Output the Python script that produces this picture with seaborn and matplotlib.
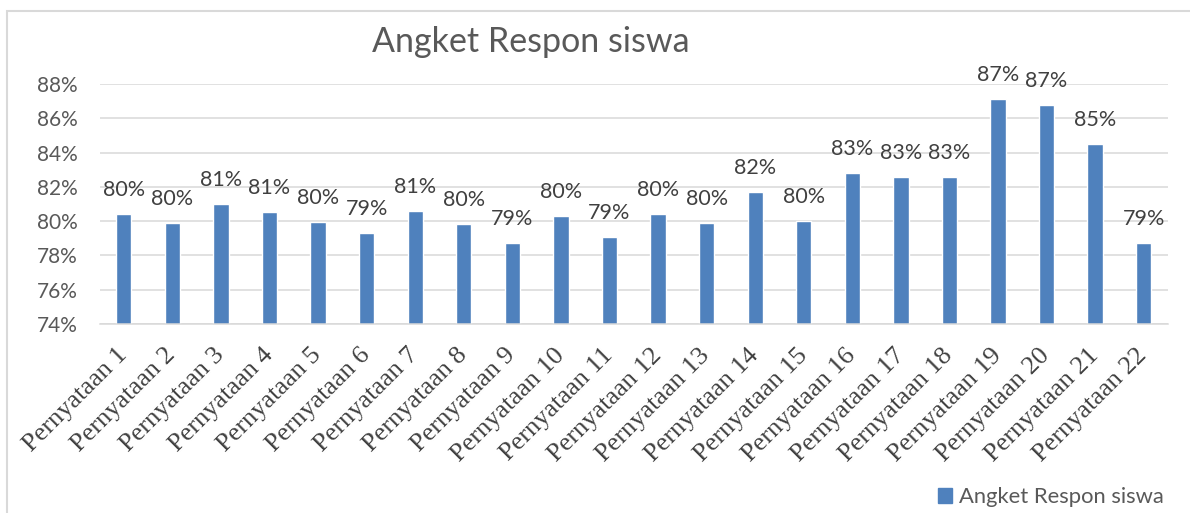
import matplotlib
matplotlib.use("Agg")
import matplotlib.pyplot as plt
import matplotlib.patches as mpatches
from matplotlib.ticker import FuncFormatter
import pandas as pd
import seaborn as sns

# data (percent)
pernyataan = [f"Pernyataan {i}" for i in range(1, 23)]
respon = [80.40, 79.89, 81.02, 80.52, 79.97, 79.29, 80.57, 79.83, 78.71, 80.28, 79.06,
          80.40, 79.89, 81.68, 80.03, 82.79, 82.57, 82.57, 87.14, 86.77, 84.52, 78.74]
judul = "Angket Respon siswa"

BAR = "#4F81BD"
GRID = "#D9D9D9"
TEXT = "#595959"
LABEL = "#404040"

sns.set_theme(style="white")
plt.rcParams["font.family"] = ["Lato", "DejaVu Sans"]

df = pd.DataFrame({"pernyataan": pernyataan, "respon": respon})

fig = plt.figure(figsize=(11.9, 5.13), dpi=100)
ax = fig.add_axes([99.5 / 1190, 189 / 513, (1168 - 99.5) / 1190, 240 / 513])

sns.barplot(data=df, x="pernyataan", y="respon", color=BAR, saturation=1,
            width=0.315, ax=ax)

ax.set_ylim(74, 88)
ax.set_yticks(range(74, 89, 2))
ax.yaxis.set_major_formatter(FuncFormatter(lambda v, _: f"{v:.0f}%"))
ax.set_xlabel("")
ax.set_ylabel("")
ax.grid(axis="y", color=GRID, linewidth=1.1)
ax.set_axisbelow(True)
for s in ["top", "right", "left"]:
    ax.spines[s].set_visible(False)
ax.spines["bottom"].set_color(GRID)
ax.spines["bottom"].set_linewidth(1.1)

ax.tick_params(axis="y", length=0, pad=16, labelsize=15, labelcolor=TEXT)
ax.tick_params(axis="x", length=0, pad=20)
for t in ax.get_xticklabels():
    t.set_rotation(45)
    t.set_ha("right")
    t.set_va("center")
    t.set_rotation_mode("anchor")
    t.set_fontfamily("Liberation Serif")
    t.set_fontsize(19)
    t.set_color(LABEL)

ax.bar_label(ax.containers[0], labels=[f"{v:.0f}%" for v in respon],
             padding=10, fontsize=15.5, color=LABEL)

fig.text(531 / 1190, 1 - 52 / 513, judul, ha="center", va="baseline",
         fontsize=24.5, color=TEXT)

handle = mpatches.Patch(color=BAR, label=judul)
fig.legend(handles=[handle], loc="center left", bbox_to_anchor=(938 / 1190, 16 / 513),
           frameon=False, fontsize=15.8, handlelength=0.65, handleheight=0.65,
           handletextpad=0.3, borderpad=0, borderaxespad=0, labelcolor=TEXT)

# chart area border (only left and top visible in the crop)
fig.patches.append(mpatches.Rectangle((7 / 1190, -0.2), 1.2, 1.2 - 11 / 513,
                                      transform=fig.transFigure, fill=False,
                                      edgecolor=GRID, linewidth=1.5, clip_on=False))

fig.savefig("out.png", dpi=100)
